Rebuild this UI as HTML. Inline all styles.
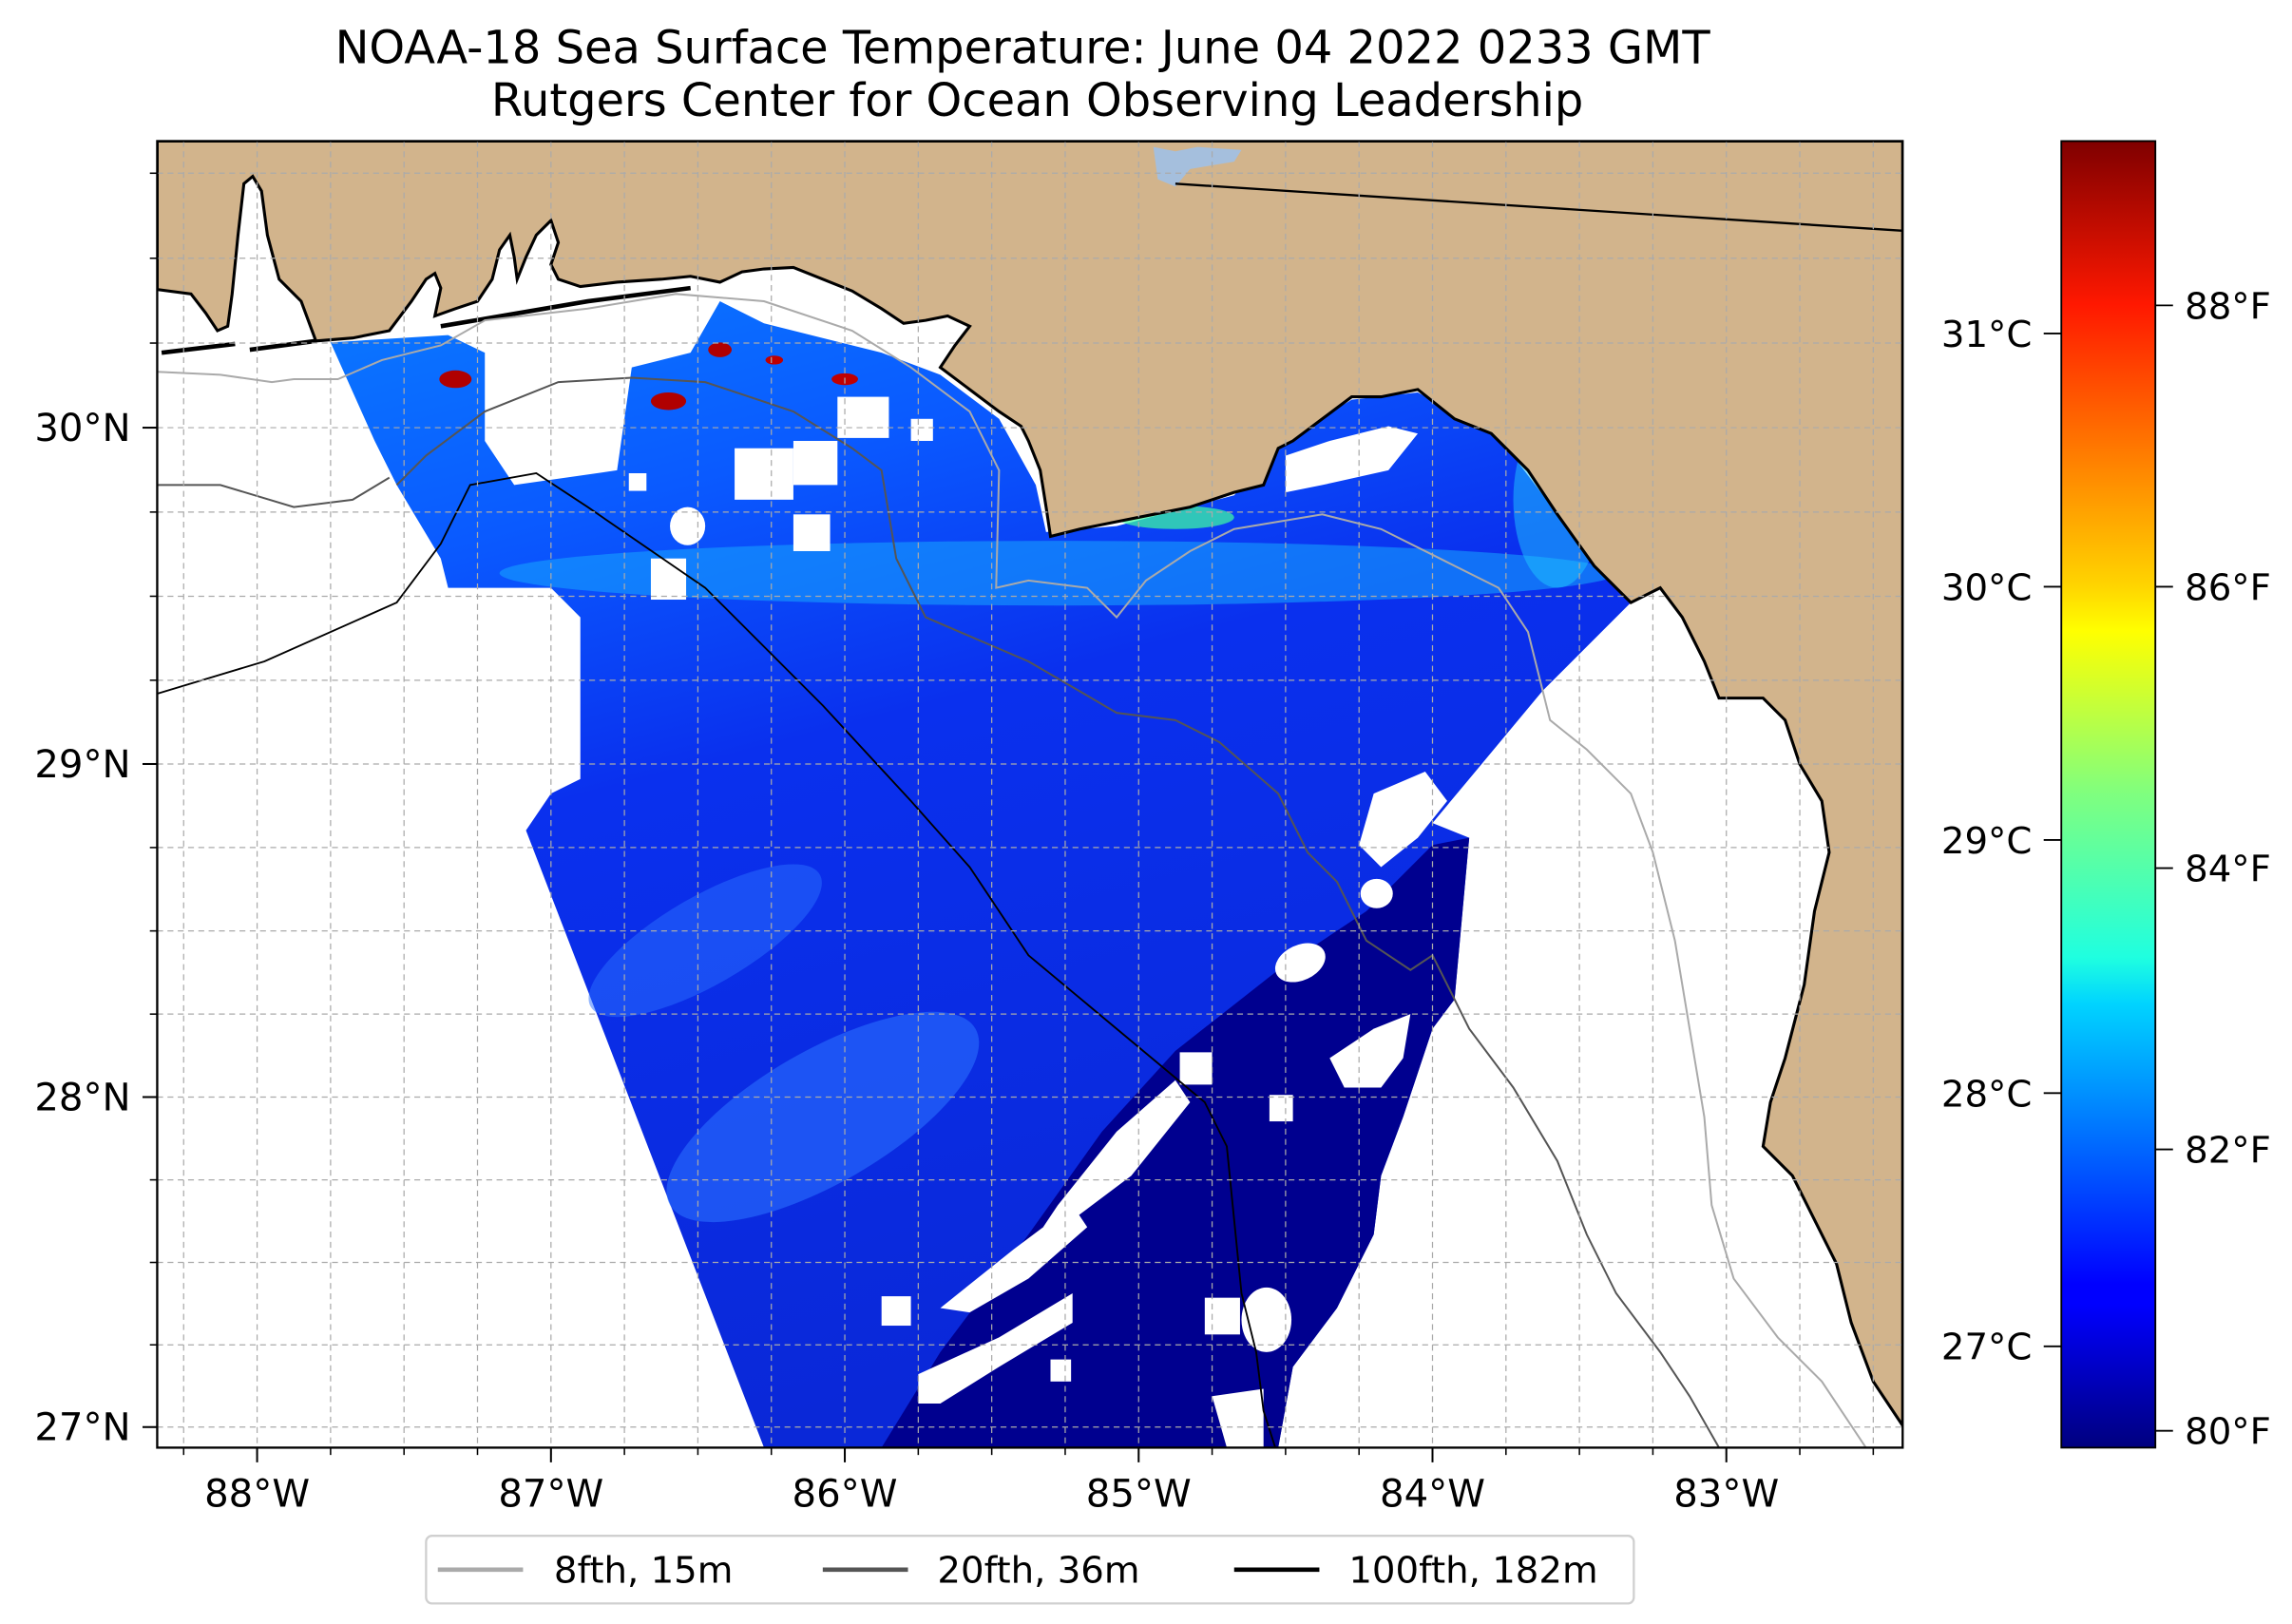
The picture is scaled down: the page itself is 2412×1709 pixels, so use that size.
<!DOCTYPE html>
<html><head><meta charset="utf-8"><style>
html,body{margin:0;padding:0;background:#fff;}
svg{display:block;font-family:"DejaVu Sans","Liberation Sans",sans-serif;}
</style></head><body>
<svg id="fig" width="2412" height="1709" viewBox="0 0 1560 1105" preserveAspectRatio="none" xmlns="http://www.w3.org/2000/svg">
<defs>
<clipPath id="mapclip"><rect x="107" y="96" width="1188" height="889"/></clipPath>
<linearGradient id="jet" x1="0" y1="1" x2="0" y2="0">
<stop offset="0" stop-color="#00007f"/><stop offset="0.11" stop-color="#0000ff"/><stop offset="0.125" stop-color="#0000ff"/>
<stop offset="0.34" stop-color="#00d4ff"/><stop offset="0.375" stop-color="#1fffe0"/><stop offset="0.5" stop-color="#7fff7f"/>
<stop offset="0.625" stop-color="#ffff00"/><stop offset="0.66" stop-color="#ffd400"/><stop offset="0.875" stop-color="#ff1800"/>
<stop offset="1" stop-color="#7f0000"/></linearGradient>
<linearGradient id="swathgrad" x1="0" y1="0" x2="0.3" y2="1">
<stop offset="0" stop-color="#0a78ff"/><stop offset="0.22" stop-color="#0a5aff"/><stop offset="0.45" stop-color="#0a30ee"/><stop offset="1" stop-color="#0a28d8"/></linearGradient>
</defs>
<text x="696" y="43" font-size="31" text-anchor="middle">NOAA-18 Sea Surface Temperature: June 04 2022 0233 GMT</text>
<text x="706" y="79" font-size="31" text-anchor="middle">Rutgers Center for Ocean Observing Leadership</text>

<g id="map" clip-path="url(#mapclip)">
<rect x="107" y="96" width="1188" height="889" fill="#fff"/>
<path fill="url(#swathgrad)" d="M225,233 L305,228 L330,240 L330,300 L350,330 L420,320 L430,250 L470,240 L490,205 L520,220 L560,230 L600,240 L640,255 L680,285 L705,330 L712,362 L760,358 L840,337 L870,302 L920,272 L965,267 L1020,297 L1060,350 L1110,410 L1080,440 L1050,470 L1000,530 L975,560 L1000,570 L990,680 L975,700 L955,760 L940,800 L935,840 L910,890 L880,930 L870,985 L520,985 L358,565 L375,540 L395,530 L395,420 L375,400 L305,400 L300,380 L270,330 L255,300 Z"/>
<path fill="#00008f" d="M1000,570 L990,680 L975,700 L955,760 L940,800 L935,840 L910,890 L880,930 L870,985 L600,985 L640,920 L700,840 L750,770 L800,715 L870,660 L930,620 L975,575 Z"/>
<g>
<ellipse cx="560" cy="760" rx="120" ry="45" transform="rotate(-30 560 760)" fill="#2a70ff" opacity="0.6"/>
<ellipse cx="480" cy="640" rx="90" ry="30" transform="rotate(-30 480 640)" fill="#2a70ff" opacity="0.5"/>
<ellipse cx="720" cy="390" rx="380" ry="22" fill="#18a8ff" opacity="0.55"/>
<ellipse cx="1060" cy="340" rx="30" ry="60" fill="#20c8ff" opacity="0.5"/>
<ellipse cx="800" cy="352" rx="40" ry="8" fill="#40ffa0" opacity="0.7"/>
<ellipse cx="310" cy="258" rx="11" ry="6" fill="#b00000"/>
<ellipse cx="455" cy="273" rx="12" ry="6" fill="#b00000"/>
<ellipse cx="490" cy="238" rx="8" ry="5" fill="#b00000"/>
<ellipse cx="575" cy="258" rx="9" ry="4" fill="#c00000"/>
<ellipse cx="527" cy="245" rx="6" ry="3" fill="#c00000"/>
</g>
<g fill="#fff">
<rect x="500" y="305" width="40" height="35"/><rect x="540" y="300" width="30" height="30"/><rect x="570" y="270" width="35" height="28"/>
<rect x="428" y="322" width="12" height="12"/><ellipse cx="468" cy="358" rx="12" ry="13"/><rect x="540" y="350" width="25" height="25"/>
<rect x="443" y="380" width="24" height="28"/><rect x="620" y="285" width="15" height="15"/>
<path d="M875,310 L905,300 L945,290 L965,295 L945,320 L900,330 L875,335 Z"/>
<path d="M935,540 L970,525 L985,545 L965,570 L940,590 L925,575 Z"/>
<ellipse cx="937" cy="608" rx="11" ry="10"/><ellipse cx="885" cy="655" rx="18" ry="12" transform="rotate(-25 885 655)"/>
<path d="M905,720 L935,700 L960,690 L955,720 L940,740 L915,740 Z"/><rect x="803" y="716" width="22" height="22"/>
<path d="M720,820 L760,770 L800,735 L810,750 L770,800 L730,830 L710,835 Z"/>
<path d="M640,890 L690,850 L730,820 L740,835 L700,870 L660,893 Z"/>
<rect x="864" y="745" width="16" height="18"/>
<path d="M625,935 L680,910 L730,880 L730,900 L680,930 L640,955 L625,955 Z"/>
<rect x="600" y="882" width="20" height="20"/><rect x="715" y="925" width="14" height="15"/>
<rect x="820" y="883" width="24" height="25"/><ellipse cx="862" cy="898" rx="17" ry="22"/>
<path d="M825,950 L860,945 L860,985 L835,985 Z"/>
</g>
<path fill="#d2b48c" d="M107,96 L1295,96 L1295,970 L1275,940 L1260,900 L1250,860 L1235,830 L1220,800 L1200,780 L1205,750 L1215,720 L1228,670 L1235,620 L1245,580 L1240,545 L1225,520 L1215,490 L1200,475 L1170,475 L1160,450 L1145,420 L1130,400 L1110,410 L1085,385 L1060,350 L1040,320 L1015,295 L990,285 L965,265 L940,270 L920,270 L900,285 L880,300 L870,305 L860,330 L840,335 L810,345 L785,350 L760,355 L735,360 L715,365 L712,345 L708,320 L700,300 L695,290 L680,280 L660,265 L640,250 L650,235 L660,222 L645,215 L630,218 L615,220 L600,210 L580,198 L560,190 L540,182 L520,183 L505,185 L490,192 L470,188 L450,190 L420,192 L395,195 L380,190 L375,180 L380,165 L375,150 L365,160 L358,175 L352,190 L350,175 L347,160 L340,170 L335,190 L325,205 L310,210 L296,215 L300,196 L296,186 L290,190 L280,205 L265,225 L240,230 L215,232 L205,205 L190,190 L182,160 L178,130 L172,120 L166,125 L162,160 L158,200 L155,222 L148,225 L140,213 L130,200 L107,197 Z" stroke="#000" stroke-width="2"/>
<path d="M110,240 L160,234 M170,238 L215,232 M300,222 L400,205 L470,196" stroke="#000" stroke-width="3" fill="none"/>
<path d="M785,100 L800,103 L815,100 L845,102 L840,110 L810,115 L800,127 L788,122 Z" fill="#a5bfdd"/>
<line x1="800" y1="125" x2="1295" y2="157" stroke="#000" stroke-width="1.5"/>
<path fill="none" stroke="#aaaaaa" stroke-width="1.3" d="M107,253 L150,255 L185,260 L200,258 L230,258 L260,245 L300,235 L330,218 L400,210 L460,200 L520,205 L580,225 L620,250 L660,280 L680,320 L678,400 L700,395 L740,400 L760,420 L780,395 L810,375 L840,360 L870,355 L900,350 L940,360 L980,380 L1020,400 L1040,430 L1050,470 L1055,490 L1080,510 L1110,540 L1125,580 L1140,640 L1150,700 L1160,760 L1165,820 L1180,870 L1210,910 L1240,940 L1270,985"/>
<path fill="none" stroke="#555555" stroke-width="1.3" d="M107,330 L150,330 L200,345 L240,340 L265,325 M270,330 L290,310 L330,280 L380,260 L430,257 L480,260 L540,280 L580,305 L600,320 L610,380 L630,420 L700,450 L760,485 L800,490 L830,505 L870,540 L890,580 L910,600 L930,640 L960,660 L975,650 L1000,700 L1030,740 L1060,790 L1080,840 L1100,880 L1130,920 L1150,950 L1170,985"/>
<path fill="none" stroke="#000" stroke-width="1.2" d="M107,472 L180,450 L270,410 L300,370 L320,330 L365,322 L400,345 L480,400 L560,480 L620,545 L660,590 L700,650 L760,700 L820,750 L835,780 L840,830 L845,880 L855,920 L860,960 L868,985"/>
<g id="grid"></g>
</g>
<rect x="107" y="96" width="1188" height="889" fill="none" stroke="#000" stroke-width="1.5"/>
<g id="axes"></g>

<rect x="1403" y="96" width="64" height="889" fill="url(#jet)" stroke="#000" stroke-width="1.2"/>
<g id="cbticks"></g>

<g>
<rect x="290" y="1045" width="822" height="46" rx="4" fill="#fff" stroke="#d0d0d0" stroke-width="1.5"/>
<line x1="298" y1="1068" x2="356" y2="1068" stroke="#aaaaaa" stroke-width="3"/>
<text x="377" y="1077" font-size="25">8fth, 15m</text>
<line x1="560" y1="1068" x2="618" y2="1068" stroke="#555555" stroke-width="3"/>
<text x="638" y="1077" font-size="25">20fth, 36m</text>
<line x1="840" y1="1068" x2="898" y2="1068" stroke="#000" stroke-width="3"/>
<text x="918" y="1077" font-size="25">100fth, 182m</text>
</g>
</svg>
<script>
const lonTicks = [-88, -87, -86, -85, -84, -83];
const latTicks = [27, 28, 29, 30];
const cTicks = [27, 28, 29, 30, 31];
const fTicks = [80, 82, 84, 86, 88];
const cRange = [26.6, 31.76];

const NS = 'http://www.w3.org/2000/svg';
const merc = l => Math.log(Math.tan(Math.PI/4 + l*Math.PI/360));
const B = 680 / (merc(30) - merc(27));
const xOf = lon => 175 + (lon + 88) * 200;
const yOf = lat => 291 + (merc(30) - merc(lat)) * B;
const cY = c => 985 - (c - cRange[0]) / (cRange[1] - cRange[0]) * 889;
function mk(tag, attrs, parent, txt) {
  const e = document.createElementNS(NS, tag);
  for (const k in attrs) e.setAttribute(k, attrs[k]);
  if (txt !== undefined) e.textContent = txt;
  parent.appendChild(e);
  return e;
}
const grid = document.getElementById('grid');
const axes = document.getElementById('axes');
const cb = document.getElementById('cbticks');
for (let lon = -88.5; lon <= -82.25; lon += 0.25) {
  const x = xOf(lon);
  if (x < 107 || x > 1295) continue;
  const g = mk('line', {x1:x, y1:96, x2:x, y2:985, stroke:'#aaaaaa', 'stroke-width':0.8, 'stroke-dasharray':'4,3'}, grid);
  
  
  const t = mk('line', {x1:x, y1:985, x2:x, y2:990, stroke:'#000', 'stroke-width':1}, axes);
  
  
}
for (let lat = 26.75; lat <= 31; lat += 0.25) {
  const y = yOf(lat);
  if (y < 96 || y > 985) continue;
  const g = mk('line', {x1:107, y1:y, x2:1295, y2:y, stroke:'#aaaaaa', 'stroke-width':0.8, 'stroke-dasharray':'4,3'}, grid);
  
  
  const t = mk('line', {x1:102, y1:y, x2:107, y2:y, stroke:'#000', 'stroke-width':1}, axes);
  
  
}
lonTicks.forEach(lon => {
  const x = xOf(lon);
  const t = mk('line', {x1:x, y1:985, x2:x, y2:995, stroke:'#000', 'stroke-width':1.3}, axes);
  
  
  const l = mk('text', {x:x, y:1025, 'font-size':26, 'text-anchor':'middle'}, axes, Math.abs(lon) + '°W');
  
  
});
latTicks.forEach(lat => {
  const y = yOf(lat);
  const t = mk('line', {x1:97, y1:y, x2:107, y2:y, stroke:'#000', 'stroke-width':1.3}, axes);
  
  
  const l = mk('text', {x:89, y:y + 9, 'font-size':26, 'text-anchor':'end'}, axes, lat + '°N');
  
  
});
cTicks.forEach(c => {
  const y = cY(c);
  const t = mk('line', {x1:1391, y1:y, x2:1403, y2:y, stroke:'#000', 'stroke-width':1.2}, cb);
  
  
  const l = mk('text', {x:1383, y:y + 9, 'font-size':25, 'text-anchor':'end'}, cb, c + '°C');
  
  
});
fTicks.forEach(f => {
  const y = cY((f - 32) * 5 / 9);
  const t = mk('line', {x1:1467, y1:y, x2:1479, y2:y, stroke:'#000', 'stroke-width':1.2}, cb);
  
  
  const l = mk('text', {x:1487, y:y + 9, 'font-size':25, 'text-anchor':'start'}, cb, f + '°F');
  
  
});
</script>
</body></html>
